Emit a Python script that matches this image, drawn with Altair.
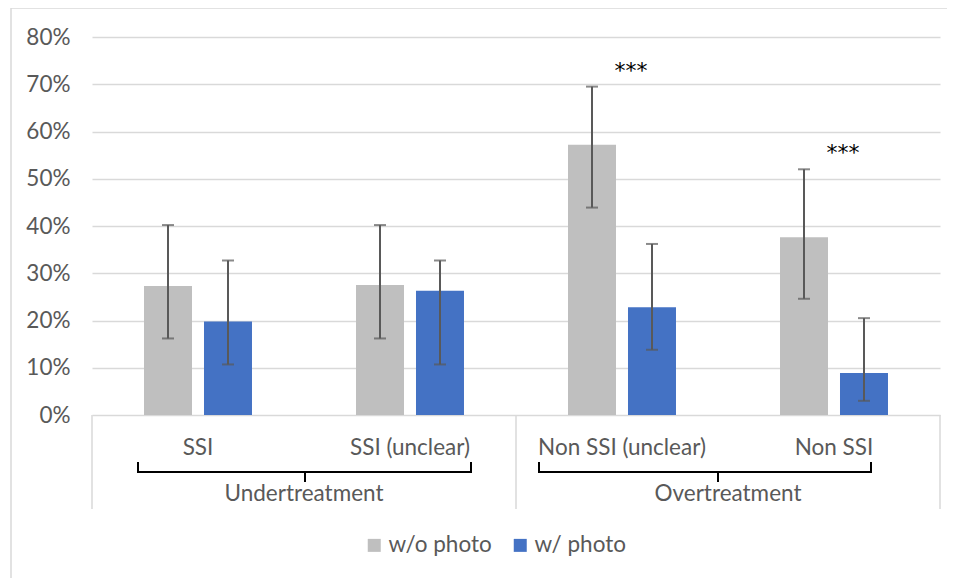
import altair as alt
import pandas as pd

# ---------------- data ----------------
categories = ["SSI", "SSI (unclear)", "Non SSI (unclear)", "Non SSI"]
series_names = ["w/o photo", "w/ photo"]

wo_photo = [0.273, 0.275, 0.572, 0.376]
wo_lo = [0.162, 0.162, 0.439, 0.246]
wo_hi = [0.402, 0.402, 0.695, 0.520]

w_photo = [0.198, 0.263, 0.228, 0.089]
w_lo = [0.107, 0.107, 0.138, 0.030]
w_hi = [0.327, 0.327, 0.362, 0.205]

group_names = ["Undertreatment", "Overtreatment"]
group_first = ["SSI", "Non SSI (unclear)"]
group_last = ["SSI (unclear)", "Non SSI"]

sig_cats = ["Non SSI (unclear)", "Non SSI"]
sig_y = [0.735, 0.561]
sig_text = ["***", "***"]

y_ticks = [0, 0.1, 0.2, 0.3, 0.4, 0.5, 0.6, 0.7, 0.8]

# ---------------- tables ----------------
rows = []
for i, c in enumerate(categories):
    rows.append(dict(cat=c, series=series_names[0], value=wo_photo[i], lo=wo_lo[i], hi=wo_hi[i]))
    rows.append(dict(cat=c, series=series_names[1], value=w_photo[i], lo=w_lo[i], hi=w_hi[i]))
df = pd.DataFrame(rows)
cat_df = pd.DataFrame({"cat": categories})
sig_df = pd.DataFrame({"cat": sig_cats, "y": sig_y, "t": sig_text})
one = pd.DataFrame({"a": [0]})

# ---------------- style ----------------
FONT = "Lato"
FS = 22.5
GRAY_TXT = "#595959"
GRID = "#d9d9d9"
W, H = 848, 378

xscale = alt.Scale(domain=categories, paddingInner=0, paddingOuter=0)
X = alt.X("cat:N", sort=categories, scale=xscale, axis=None)
XO = alt.XOffset("series:N", sort=series_names,
                 scale=alt.Scale(domain=series_names, paddingInner=0.2, paddingOuter=0.867))
yscale = alt.Scale(domain=[0, 0.8], nice=False)
yaxis = alt.Axis(values=y_ticks, format=".0%", grid=True, gridColor=GRID,
                 gridWidth=1.5, domain=False, ticks=False, labelPadding=22,
                 labelFont=FONT, labelFontSize=FS, labelColor=GRAY_TXT)

bars = alt.Chart(df).mark_bar().encode(
    x=X, xOffset=XO,
    y=alt.Y("value:Q", scale=yscale, title=None, axis=yaxis),
    color=alt.Color("series:N", sort=series_names,
                    scale=alt.Scale(domain=series_names, range=["#bfbfbf", "#4472c4"]),
                    legend=alt.Legend(title=None, orient="none", legendX=271, legendY=497,
                                      direction="horizontal", symbolType="square",
                                      symbolSize=169, symbolStrokeWidth=0,
                                      labelFont=FONT, labelFontSize=FS, labelColor=GRAY_TXT,
                                      columnPadding=17, labelOffset=3, padding=0)),
)

err = alt.Chart(df).mark_rule(color="#595959", strokeWidth=2).encode(
    x=X, xOffset=XO, y=alt.Y("lo:Q", scale=yscale, title=None), y2="hi:Q")
cap_hi = alt.Chart(df).mark_tick(color="#595959", thickness=2, size=12, orient="horizontal").encode(
    x=X, xOffset=XO, y=alt.Y("hi:Q", scale=yscale, title=None))
cap_lo = alt.Chart(df).mark_tick(color="#595959", thickness=2, size=12, orient="horizontal").encode(
    x=X, xOffset=XO, y=alt.Y("lo:Q", scale=yscale, title=None))

stars = alt.Chart(sig_df).mark_text(font="DejaVu Sans", fontSize=22, color="black", dx=9, dy=3,
                                     baseline="middle").encode(
    x=X, y=alt.Y("y:Q", scale=yscale, title=None), text="t:N")

cat_labels = alt.Chart(cat_df).mark_text(font=FONT, fontSize=FS, color=GRAY_TXT,
                                          baseline="middle").encode(
    x=X, y=alt.value(411), text="cat:N")

# separators of the category box
sep_left = alt.Chart(pd.DataFrame({"cat": group_first})).mark_rule(color=GRID, strokeWidth=1.5).encode(
    x=alt.X("cat:N", scale=xscale, axis=None, bandPosition=0),
    y=alt.value(H), y2=alt.value(472))
sep_right = alt.Chart(pd.DataFrame({"cat": [categories[-1]]})).mark_rule(color=GRID, strokeWidth=1.5).encode(
    x=alt.X("cat:N", scale=xscale, axis=None, bandPosition=1),
    y=alt.value(H), y2=alt.value(472))

# group labels, centred on the group
grp_labels = alt.Chart(pd.DataFrame({"cat": group_last, "g": group_names})).mark_text(
    font=FONT, fontSize=FS, color=GRAY_TXT, baseline="middle").encode(
    x=alt.X("cat:N", scale=xscale, axis=None, bandPosition=0),
    y=alt.value(457), text="g:N")

# brackets (styling offsets per group)
bracket_style = {"Undertreatment": (-60, 61, 1), "Overtreatment": (-83, 37, -10)}
bracket_layers = []
for g, c1, c2 in zip(group_names, group_first, group_last):
    o1, o2, oc = bracket_style[g]
    bdf = pd.DataFrame({"cat": [c1], "cat2": [c2]})
    bracket_layers.append(alt.Chart(bdf).mark_rule(color="black", strokeWidth=2,
                                                   xOffset=o1, x2Offset=o2).encode(
        x=alt.X("cat:N", scale=xscale, axis=None, bandPosition=0.5),
        x2=alt.X2("cat2:N", bandPosition=0.5), y=alt.value(435)))
    bracket_layers.append(alt.Chart(bdf).mark_rule(color="black", strokeWidth=2, xOffset=o1).encode(
        x=alt.X("cat:N", scale=xscale, axis=None), y=alt.value(425), y2=alt.value(436)))
    bracket_layers.append(alt.Chart(bdf).mark_rule(color="black", strokeWidth=2, xOffset=o2).encode(
        x=alt.X("cat2:N", scale=xscale, axis=None), y=alt.value(425), y2=alt.value(436)))
    bracket_layers.append(alt.Chart(bdf).mark_rule(color="black", strokeWidth=2, xOffset=oc).encode(
        x=alt.X("cat2:N", scale=xscale, axis=None, bandPosition=0), y=alt.value(435), y2=alt.value(445)))

border = alt.Chart(one).mark_rect(filled=False, stroke=GRID, strokeWidth=1.5).encode(
    x=alt.value(-81), x2=alt.value(1000), y=alt.value(-29), y2=alt.value(700))

chart = alt.layer(
    bars, err, cap_hi, cap_lo, stars, cat_labels, sep_left, sep_right, grp_labels,
    *bracket_layers, border
).properties(
    width=W, height=H,
    background="white",
    autosize=alt.AutoSizeParams(type="none"),
    padding={"left": 84, "top": 29, "right": 7, "bottom": 163},
).configure_view(strokeWidth=0, stroke=None)

chart.save("out.html", embed_options={"renderer": "svg", "actions": False})
